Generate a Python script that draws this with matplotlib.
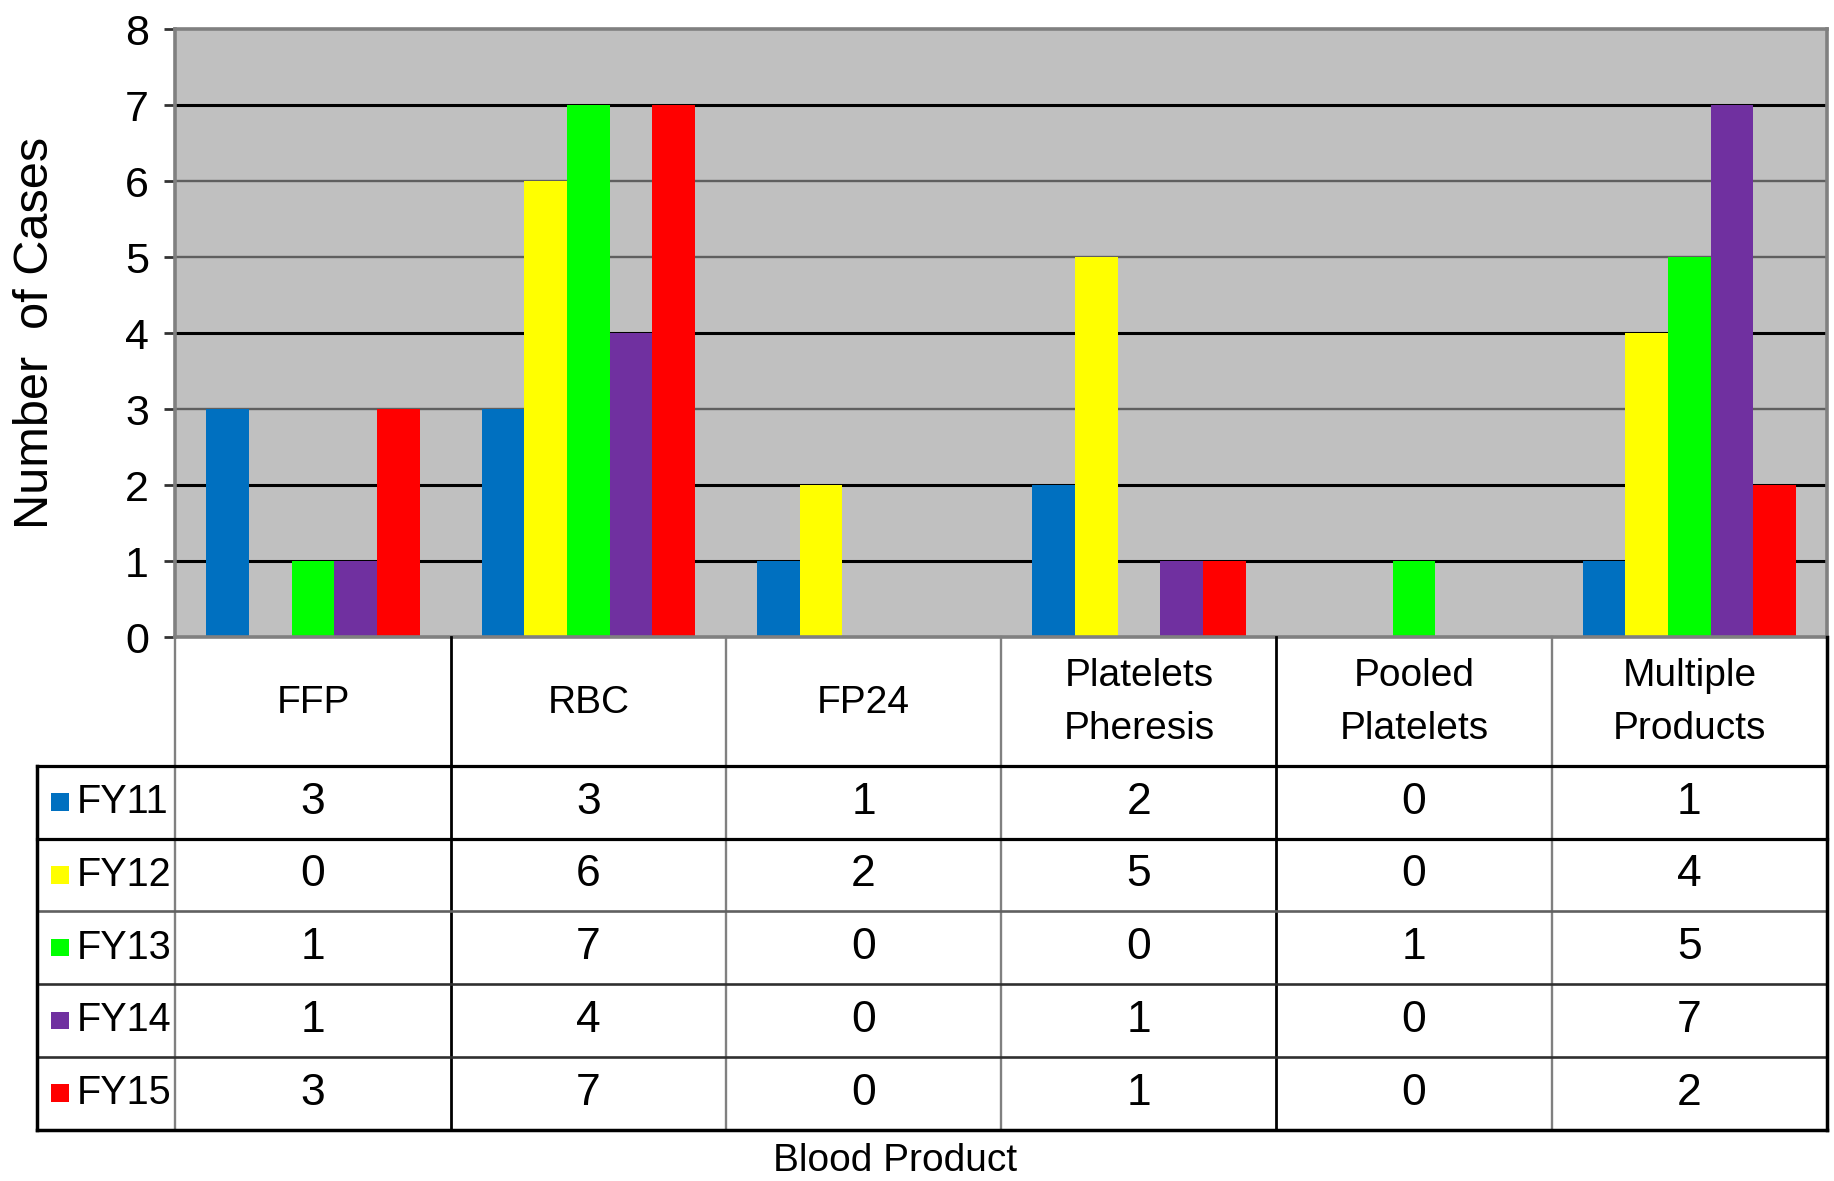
import matplotlib
matplotlib.use("Agg")
import matplotlib.pyplot as plt
from matplotlib.patches import Rectangle

# ---- data ----
products = ["FFP", "RBC", "FP24", "Platelets\nPheresis", "Pooled\nPlatelets", "Multiple\nProducts"]
years = ["FY11", "FY12", "FY13", "FY14", "FY15"]
fy11 = [3, 3, 1, 2, 0, 1]
fy12 = [0, 6, 2, 5, 0, 4]
fy13 = [1, 7, 0, 0, 1, 5]
fy14 = [1, 4, 0, 1, 0, 7]
fy15 = [3, 7, 0, 1, 0, 2]
series = [fy11, fy12, fy13, fy14, fy15]
colors = ["#0070C0", "#FFFF00", "#00FF00", "#7030A0", "#FF0000"]
y_ticks = list(range(0, 9))

SANS = ["Liberation Sans", "DejaVu Sans"]

# layout helpers (layout frame 1568 x 1010)
W, H = 1568.0, 1010.0
def fx(px):
    return px / W
def fy(py):
    return 1.0 - py / H

fig = plt.figure(figsize=(18.34, 11.81), dpi=100)
fig.patch.set_facecolor("white")

# ---- chart area ----
left_px, right_px, top_px, base_px = 150, 1562, 25, 545
ax = fig.add_axes([fx(left_px), fy(base_px), fx(right_px) - fx(left_px), fy(top_px) - fy(base_px)])
ax.set_facecolor("#C0C0C0")
ax.set_xlim(-0.5, len(products) - 0.5)
ax.set_ylim(0, 8)

grid_colors = {1: "#000000", 2: "#000000", 3: "#5f5f5f", 4: "#000000",
               5: "#5f5f5f", 6: "#5f5f5f", 7: "#000000"}
for v, c in grid_colors.items():
    ax.axhline(v, color=c, lw=2.2 if c == "#000000" else 1.7, zorder=1)

bar_w = 0.155
n = len(series)
for i, (vals, col) in enumerate(zip(series, colors)):
    xs = [k + (i - (n - 1) / 2) * bar_w for k in range(len(products))]
    ax.bar(xs, vals, width=bar_w, color=col, edgecolor="none", zorder=2)

for s in ax.spines.values():
    s.set_color("#808080")
    s.set_linewidth(2.6)
ax.set_xticks([])
ax.set_yticks(y_ticks)
ax.set_yticklabels([str(t) for t in y_ticks], fontsize=31, family=SANS)
ax.tick_params(axis="y", length=8, width=2, color="#333333", pad=11)
ax.set_ylabel("Number  of Cases", fontsize=35, family=SANS, labelpad=48)

# ---- data table ----
tab_left_px, tab_bottom_px = 32, 966
header_bottom = 655
col_px = (right_px - left_px) / len(products)
leg_w = (left_px - tab_left_px) / col_px
tax = fig.add_axes([fx(tab_left_px), fy(tab_bottom_px),
                    fx(right_px) - fx(tab_left_px), fy(base_px) - fy(tab_bottom_px)])
tax.set_xlim(-0.5 - leg_w, len(products) - 0.5)
tax.set_ylim(tab_bottom_px, base_px)
tax.axis("off")

row_h = (tab_bottom_px - header_bottom) / len(years)
row_edges = [header_bottom + r * row_h for r in range(len(years) + 1)]
x_left = -0.5 - leg_w
x_right = len(products) - 0.5

def hline(y, x0, x1, color, lw):
    tax.plot([x0, x1], [y, y], color=color, lw=lw, clip_on=False, solid_capstyle="projecting")

def vline(x, y0, y1, color, lw):
    tax.plot([x, x], [y0, y1], color=color, lw=lw, clip_on=False, solid_capstyle="projecting")

# column separators
col_line_colors = ["#808080", "#000000", "#808080", "#808080", "#000000", "#808080"]
for k, c in enumerate(col_line_colors):
    vline(k - 0.5, base_px, tab_bottom_px, c, 2.0 if c == "#000000" else 1.7)
# row separators
row_line_colors = ["#000000", "#000000", "#606060", "#303030", "#303030"]
for y, c in zip(row_edges[:-1], row_line_colors):
    hline(y, x_left, x_right, c, 2.3 if c == "#000000" else 1.9)
# outer border
hline(tab_bottom_px, x_left, x_right, "#000000", 2.5)
vline(x_left, header_bottom, tab_bottom_px, "#000000", 2.5)
vline(x_right, base_px, tab_bottom_px, "#000000", 2.5)

# header labels
for k, name in enumerate(products):
    tax.text(k, (base_px + header_bottom) / 2 + 1, name, ha="center", va="center",
             fontsize=28, family=SANS, linespacing=1.6)

# value rows with legend keys
sq = 15.0
for r, (yr, vals, col) in enumerate(zip(years, series, colors)):
    yc = (row_edges[r] + row_edges[r + 1]) / 2
    tax.add_patch(Rectangle((x_left + 12 / col_px, yc - sq / 2), sq / col_px, sq,
                            facecolor=col, edgecolor="none", clip_on=False))
    tax.text(x_left + 34 / col_px, yc, yr, ha="left", va="center", fontsize=28.5, family=SANS)
    for k, v in enumerate(vals):
        tax.text(k, yc, str(v), ha="center", va="center", fontsize=32, family=SANS)

fig.text(fx(765), fy(993), "Blood Product", ha="center", va="center", fontsize=28, family=SANS)

fig.savefig("out.png", dpi=100, facecolor="white")
